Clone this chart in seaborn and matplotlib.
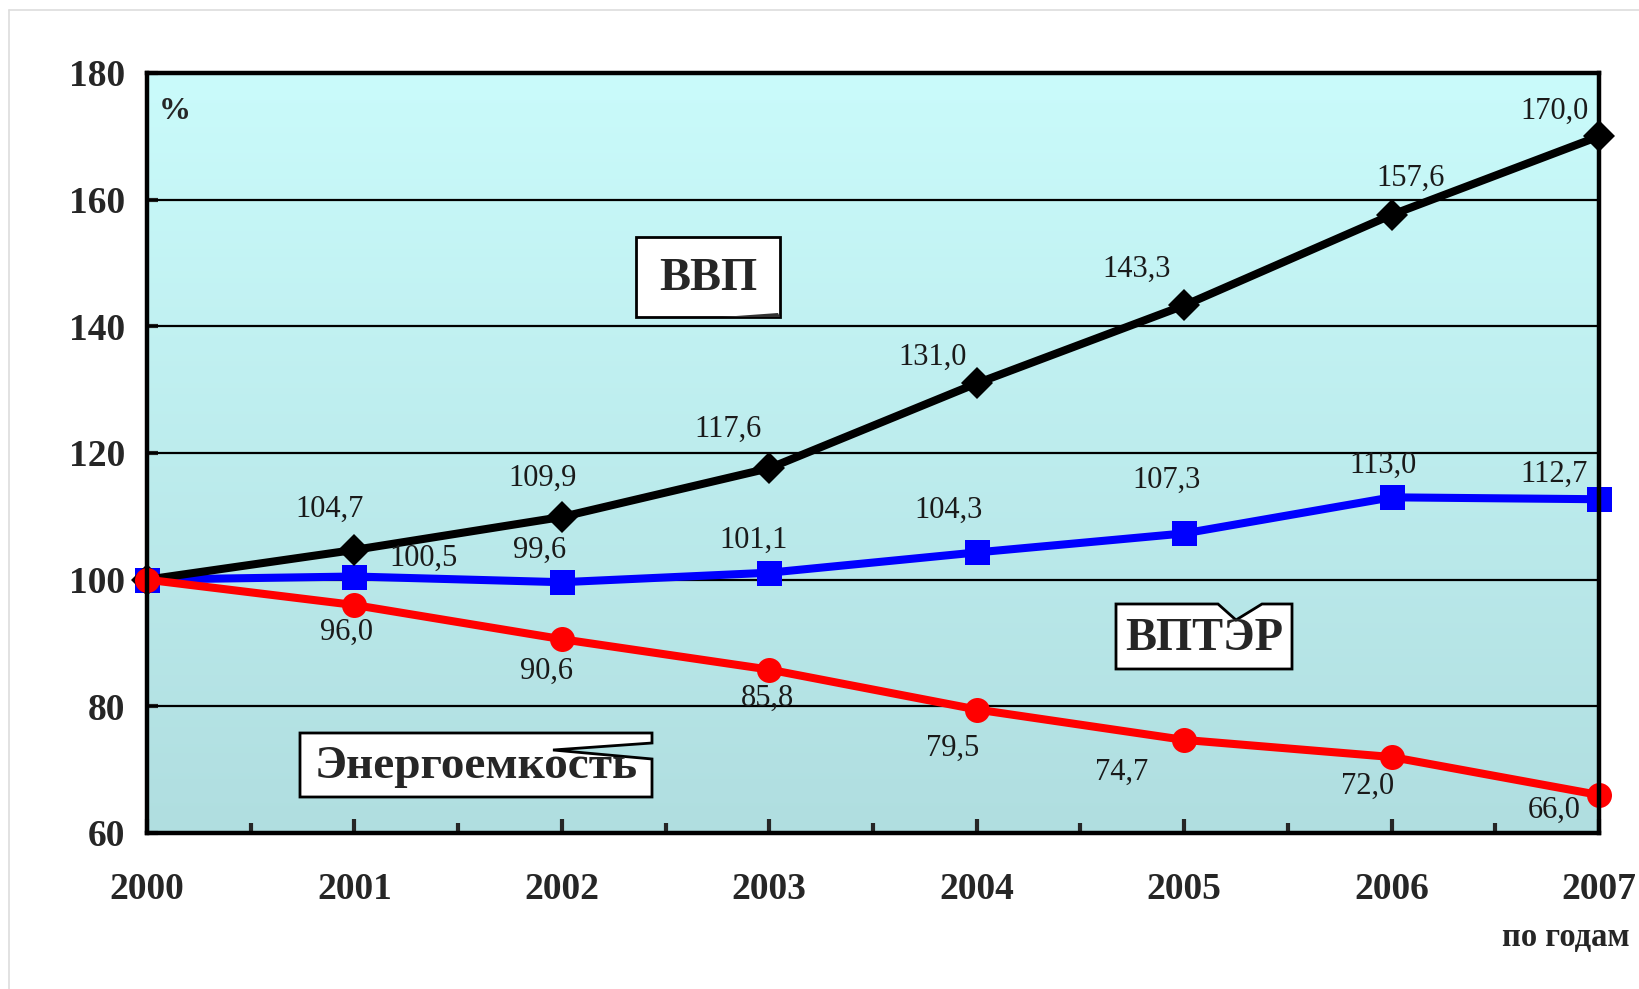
import numpy as np
import pandas as pd
import matplotlib.pyplot as plt
import seaborn as sns
from matplotlib.lines import Line2D
from matplotlib.patches import Polygon
from matplotlib.ticker import MultipleLocator

sns.set_theme(style="white")
plt.rcParams['font.family'] = ['Liberation Serif', 'DejaVu Serif']

# data
years = [2000, 2001, 2002, 2003, 2004, 2005, 2006, 2007]
vvp = [100.0, 104.7, 109.9, 117.6, 131.0, 143.3, 157.6, 170.0]
vpter = [100.0, 100.5, 99.6, 101.1, 104.3, 107.3, 113.0, 112.7]
energo = [100.0, 96.0, 90.6, 85.8, 79.5, 74.7, 72.0, 66.0]

# label offsets (points)
vvp_off = [None, (-18, 29), (-14, 28), (-30, 28), (-32, 19), (-34, 26), (14, 26), (-32, 18)]
vpter_off = [None, (50, 13), (-16, 23), (-11, 23), (-20, 30), (-13, 38), (-6, 23), (-32, 18)]
energo_off = [None, (-6, -20), (-11, -23), (-1, -21), (-17, -28), (-45, -23), (-17, -21), (-32, -11)]

df = pd.DataFrame({'year': years, 'ВВП': vvp, 'ВПТЭР': vpter, 'Энергоемкость': energo})

W, H = 1639, 989
L, R, T, B = 147, 1599, 73, 833
fig = plt.figure(figsize=(W / 100, H / 100), dpi=100)
ax = fig.add_axes([L / W, 1 - B / H, (R - L) / W, (B - T) / H])


def px(x, y):
    # pixel position -> data coords (for callout boxes only)
    return 2000 + (x - L) / (R - L) * 7, 180 - (y - T) / (B - T) * 120


# background gradient
grad = np.linspace(0, 1, 256).reshape(-1, 1)
top = np.array([202, 251, 251]) / 255
bot = np.array([176, 222, 224]) / 255
img = top + (bot - top) * grad[:, :, None]
ax.imshow(img, extent=[2000, 2007, 60, 180], aspect='auto', origin='upper', zorder=0)

for y in [80, 100, 120, 140, 160]:
    ax.axhline(y, color='black', lw=1.6, zorder=1)

sns.lineplot(data=df, x='year', y='ВВП', ax=ax, color='black', lw=5.8,
             marker='D', markersize=16, markeredgewidth=0, zorder=4, clip_on=False)
sns.lineplot(data=df, x='year', y='ВПТЭР', ax=ax, color='#0000FF', lw=5.8,
             marker='s', markersize=18, markeredgewidth=0, zorder=3, clip_on=False)
sns.lineplot(data=df, x='year', y='Энергоемкость', ax=ax, color='#FF0000', lw=5.8,
             marker='o', markersize=18, markeredgewidth=0, zorder=5, clip_on=False)

for vals, offs in [(vvp, vvp_off), (vpter, vpter_off), (energo, energo_off)]:
    for x, v, o in zip(years, vals, offs):
        if o is None:
            continue
        ax.annotate(f"{v:.1f}".replace('.', ','), (x, v), xytext=o, textcoords='offset points',
                    ha='center', va='center', fontsize=22, color='#1a1a1a', zorder=6)

ax.set_xlim(2000, 2007)
ax.set_ylim(60, 180)
ax.set_xticks(years)
ax.xaxis.set_minor_locator(MultipleLocator(0.5))
ax.set_yticks([60, 80, 100, 120, 140, 160, 180])
ax.tick_params(axis='x', which='major', direction='in', length=10, width=3, pad=28,
               labelsize=27, bottom=True)
ax.tick_params(axis='x', which='minor', direction='in', length=7, width=3, bottom=True)
ax.tick_params(axis='y', which='major', direction='in', length=8, width=3, pad=16,
               labelsize=27, left=True)
for lab in ax.get_xticklabels() + ax.get_yticklabels():
    lab.set_fontweight('bold')
ax.set_xlabel('')
ax.set_ylabel('')
for s in ax.spines.values():
    s.set_color('black')
    s.set_linewidth(3.2)
    s.set_zorder(7)

# callout boxes
boxes = [
    [(636, 237), (780, 237), (780, 317), (636, 317)],
    [(1116, 604), (1218, 604), (1236, 620), (1262, 604), (1292, 604), (1292, 669), (1116, 669)],
    [(300, 733), (652, 733), (652, 743), (553, 750), (652, 759), (652, 797), (300, 797)],
]
for pts in boxes:
    ax.add_patch(Polygon([px(*p) for p in pts], closed=True, fc='white', ec='black',
                         lw=2, zorder=8))
# thin tail on the ВВП box
ax.add_patch(Polygon([px(722, 317), px(778, 313), px(780, 317)], closed=True,
                     fc='#333333', ec='none', zorder=9))

ax.text(*px(708, 279), 'ВВП', fontsize=33.5, fontweight='bold', ha='center', va='center', zorder=9)
ax.text(*px(1204, 639), 'ВПТЭР', fontsize=33.5, fontweight='bold', ha='center', va='center', zorder=9)
ax.text(*px(476, 767), 'Энергоемкость', fontsize=34, fontweight='bold', ha='center', va='center', zorder=9)

ax.text(0.008, 0.949, '%', transform=ax.transAxes, fontsize=23, fontweight='bold',
        ha='left', va='center')
fig.text(1630 / W, 1 - 938 / H, 'по годам', fontsize=23.5, fontweight='bold',
         ha='right', va='center')

# outer light frame
fig.add_artist(Line2D([9 / W, 1], [1 - 10 / H, 1 - 10 / H], color='#dddddd', lw=1.2))
fig.add_artist(Line2D([9 / W, 9 / W], [0, 1 - 10 / H], color='#dddddd', lw=1.2))

fig.savefig('out.png', dpi=100, facecolor='white')
